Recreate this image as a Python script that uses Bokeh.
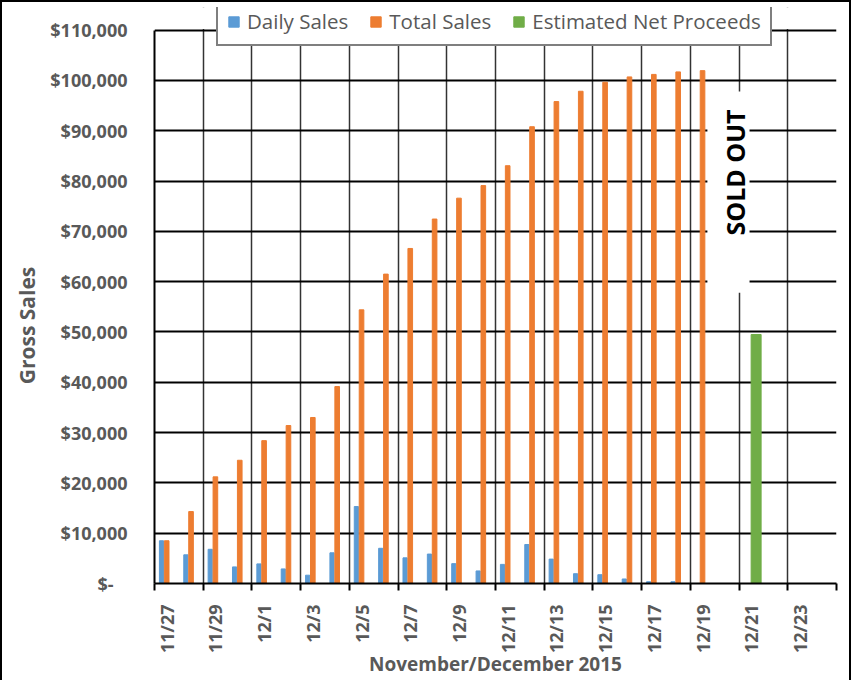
import math
import numpy as np
from bokeh.plotting import figure
from bokeh.models import (ColumnDataSource, FixedTicker, CustomJSTickFormatter, Range1d,
                          Legend, LegendItem, BoxAnnotation, Label)
from bokeh.transform import dodge
from bokeh.embed import file_html
from bokeh.resources import INLINE

NaN = float("nan")

dates = ["11/27", "11/28", "11/29", "11/30", "12/1", "12/2", "12/3", "12/4", "12/5", "12/6",
         "12/7", "12/8", "12/9", "12/10", "12/11", "12/12", "12/13", "12/14", "12/15", "12/16",
         "12/17", "12/18", "12/19", "12/20", "12/21", "12/22", "12/23", "12/24"]
daily_sales = [8500, 5700, 6800, 3300, 3900, 2900, 1650, 6100, 15300, 7000,
               5100, 5850, 3950, 2500, 3800, 7750, 4850, 1950, 1750, 900,
               350, 350, NaN, NaN, NaN, NaN, NaN, NaN]
total_sales = [8500, 14300, 21200, 24500, 28400, 31400, 33000, 39150, 54400, 61500,
               66600, 72450, 76600, 79100, 83050, 90800, 95800, 97850, 99650, 100700,
               101200, 101700, 101950, NaN, NaN, NaN, NaN, NaN]
net_proceeds = [NaN] * 24 + [49500] + [NaN] * 3
y_ticks = list(range(0, 110001, 10000))
Y_MAX = 110000

GRAY = "#595959"
FONT = "Open Sans"

n = len(dates)
src = ColumnDataSource(dict(x=np.arange(n) + 0.5, daily=daily_sales, total=total_sales,
                            net=net_proceeds))

p = figure(width=851, height=680, output_backend="svg", toolbar_location=None,
           x_range=Range1d(0, n), y_range=Range1d(0, 114500),
           min_border_left=154, min_border_right=15, min_border_top=7, min_border_bottom=85)
p.border_fill_color = None
p.outline_line_color = None
p.styles = {"box-shadow": "inset 2px 2px 0 0 black, inset -2px 0 0 0 black"}

r_daily = p.vbar(x=dodge("x", -0.213, range=p.x_range), top="daily", width=0.17, bottom=0,
                 source=src, color="#5B9BD5")
r_total = p.vbar(x="x", top="total", width=0.19, bottom=0, source=src, color="#ED7D31")
r_net = p.vbar(x=dodge("x", 0.2, range=p.x_range), top="net", width=0.41, bottom=0,
               source=src, color="#70AD47")

# grids
p.xgrid.ticker = FixedTicker(ticks=list(range(0, n + 1, 2)))
p.xgrid.grid_line_color = "#333333"
p.xgrid.grid_line_width = 1.5
p.ygrid.ticker = FixedTicker(ticks=y_ticks)
p.ygrid.grid_line_color = "black"
p.ygrid.grid_line_width = 2

# blank band above the top of the value scale (legend sits over it)
p.add_layout(BoxAnnotation(bottom=Y_MAX + 250, fill_color="white", fill_alpha=1,
                           line_color=None))

# x axis
xa = p.xaxis[0]
xa.ticker = FixedTicker(ticks=[i + 0.5 for i in range(0, n, 2)],
                        minor_ticks=list(range(0, n + 1, 2)))
xa.formatter = CustomJSTickFormatter(args=dict(labels=dates),
                                     code="return labels[Math.floor(tick)];")
xa.major_tick_in = 0
xa.major_tick_out = 0
xa.minor_tick_in = 0
xa.minor_tick_out = 7
xa.minor_tick_line_color = "black"
xa.minor_tick_line_width = 2
xa.axis_line_color = "black"
xa.axis_line_width = 2
xa.major_label_orientation = math.pi / 2
xa.major_label_standoff = 14
xa.major_label_text_font = FONT
xa.major_label_text_font_style = "bold"
xa.major_label_text_font_size = "18px"
xa.major_label_text_color = GRAY
xa.axis_label = "November/December 2015"
xa.axis_label_text_font = FONT
xa.axis_label_text_font_style = "bold"
xa.axis_label_text_font_size = "19px"
xa.axis_label_text_color = GRAY
xa.axis_label_standoff = -5

# y axis
ya = p.yaxis[0]
ya.bounds = (0, Y_MAX)
ya.ticker = FixedTicker(ticks=y_ticks)
ya.formatter = CustomJSTickFormatter(code="""
if (tick == 0) { return "$-\\u00a0\\u00a0\\u00a0"; }
return "$" + Math.round(tick).toLocaleString("en-US");
""")
ya.major_tick_in = 0
ya.major_tick_out = 0
ya.minor_tick_line_color = None
ya.axis_line_color = "black"
ya.axis_line_width = 2
ya.major_label_standoff = 27
ya.major_label_text_font = FONT
ya.major_label_text_font_style = "bold"
ya.major_label_text_font_size = "18px"
ya.major_label_text_color = GRAY
ya.axis_label = "Gross Sales" + "\u00a0" * 11
ya.axis_label_text_font = FONT
ya.axis_label_text_font_style = "bold"
ya.axis_label_text_font_size = "21px"
ya.axis_label_text_color = GRAY
ya.axis_label_standoff = 6

# SOLD OUT text box
p.add_layout(BoxAnnotation(left=22.7, right=24.43, bottom=57800, top=97800,
                           fill_color="white", fill_alpha=1, line_color=None))
p.add_layout(Label(x=23.85, y=81700, text="SOLD OUT", angle=math.pi / 2,
                   text_align="center", text_baseline="middle", text_font=FONT,
                   text_font_style="bold", text_font_size="25px", text_color="black"))

legend = Legend(items=[LegendItem(label="Daily Sales", renderers=[r_daily]),
                       LegendItem(label="Total Sales", renderers=[r_total]),
                       LegendItem(label="Estimated Net Proceeds", renderers=[r_net])],
                location=(62, 537), orientation="horizontal")
legend.border_line_color = "black"
legend.border_line_width = 2
legend.background_fill_color = "white"
legend.background_fill_alpha = 1
legend.label_text_font = FONT
legend.label_text_font_size = "20.5px"
legend.label_text_color = GRAY
legend.glyph_width = 13
legend.glyph_height = 13
legend.label_standoff = 7
legend.spacing = 21
legend.padding = 9
legend.margin = 0
legend.label_height = 20
p.add_layout(legend, "center")

open("out.html", "w").write(file_html(p, INLINE))
